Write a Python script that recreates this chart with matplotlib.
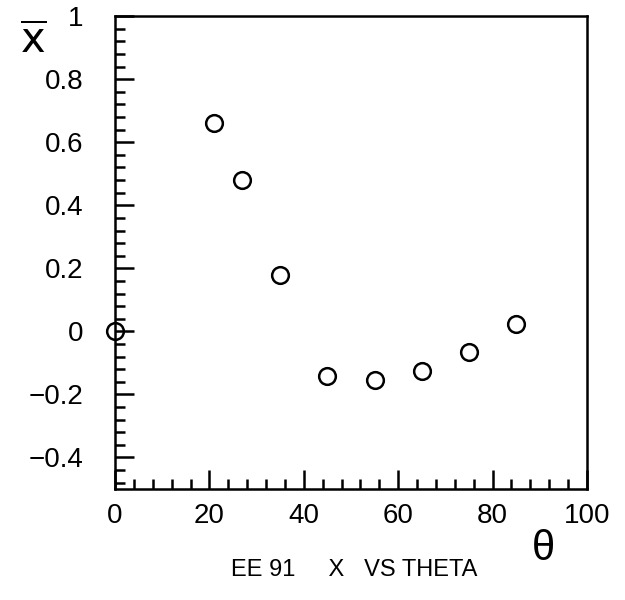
import numpy as np
import matplotlib.pyplot as plt
from matplotlib.ticker import MultipleLocator

plt.rcParams['font.family'] = ['Liberation Sans', 'DejaVu Sans']
plt.rcParams['mathtext.fontset'] = 'dejavusans'

# data
theta = [0, 21, 27, 35, 45, 55, 65, 75, 85]
x_val = [0.0, 0.66, 0.48, 0.18, -0.14, -0.155, -0.125, -0.065, 0.025]

x_ticks = [0, 20, 40, 60, 80, 100]
y_ticks = [-0.4, -0.2, 0, 0.2, 0.4, 0.6, 0.8, 1]
y_labels = ['\u22120.4', '\u22120.2', '0', '0.2', '0.4', '0.6', '0.8', '1']

fig = plt.figure(figsize=(6.25, 6.0), dpi=100)
ax = fig.add_axes([0.184, 0.185, 0.755, 0.788])

ax.plot(theta, x_val, linestyle='none', marker='o', markersize=12,
        markerfacecolor='none', markeredgecolor='black', markeredgewidth=1.8,
        clip_on=False)

ax.set_xlim(0, 100)
ax.set_ylim(-0.5, 1)

ax.set_xticks(x_ticks)
ax.set_yticks(y_ticks)
ax.set_yticklabels(y_labels)
ax.xaxis.set_minor_locator(MultipleLocator(4))
ax.yaxis.set_minor_locator(MultipleLocator(0.04))

ax.tick_params(which='both', direction='in', top=False, right=False,
               width=1.8, labelsize=20)
ax.tick_params(which='major', length=14)
ax.tick_params(which='minor', length=7)
ax.tick_params(axis='y', pad=23)
ax.tick_params(axis='x', pad=10)

for s in ax.spines.values():
    s.set_linewidth(1.8)

# axis names placed like the original
fig.text(0.053, 0.93, r'$\overline{\mathrm{x}}$', fontsize=30, ha='center', va='center')
fig.text(0.869, 0.085, '\u03b8', fontsize=30, ha='center', va='center')
fig.text(0.566, 0.05, 'EE 91     X   VS THETA', fontsize=17,
         ha='center', va='center')

# cut-off tick label from the neighbouring panel at the left edge
fig.text(-0.014, 0.145, '0', fontsize=20, ha='center', va='center')

fig.savefig('out.png', dpi=100)
